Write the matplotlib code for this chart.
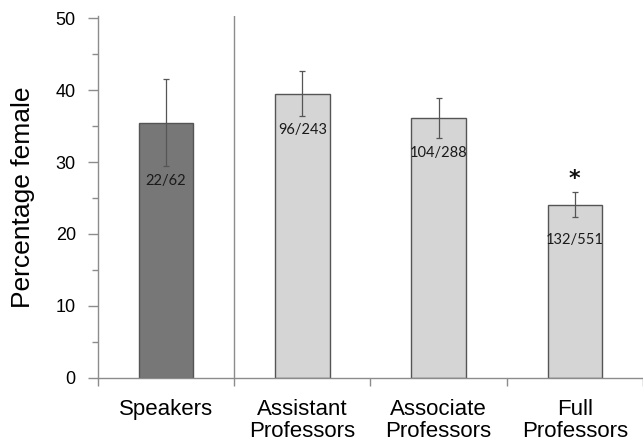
import matplotlib
matplotlib.use("Agg")
from matplotlib import pyplot as plt
from matplotlib.ticker import MultipleLocator
import numpy as np

# values
categories = ["Speakers", "Assistant\nProfessors", "Associate\nProfessors", "Full\nProfessors"]
pct_female = [35.5, 39.5, 36.1, 24.0]
err_low = [29.4, 36.4, 33.3, 22.3]
err_high = [41.6, 42.7, 38.9, 25.8]
counts = ["22/62", "96/243", "104/288", "132/551"]
significant = [False, False, False, True]

plt.rcParams['font.family'] = ['Liberation Sans', 'DejaVu Sans']

fig = plt.figure(figsize=(6.43, 4.42), dpi=100)
ax = fig.add_axes([0.1524, 0.1455, 0.8476, 0.818])

x = np.arange(len(categories))
vals = np.array(pct_female)
yerr = [vals - np.array(err_low), np.array(err_high) - vals]
colors = ["#777777"] + ["#d5d5d5"] * (len(categories) - 1)

ax.bar(x, vals, width=0.4, color=colors, edgecolor="#555555", linewidth=1.0, zorder=2)
ax.errorbar(x, vals, yerr=yerr, fmt="none", ecolor="#555555", elinewidth=0.9,
            capsize=2.3, capthick=0.9, zorder=3)

# count labels inside the bars
for xi, v, lo, txt in zip(x, vals, err_low, counts):
    ypos = min(lo - 2.0, v - 4.8)
    ax.text(xi, ypos, txt, ha="center", va="center", fontsize=10.5,
            family=["Lato", "DejaVu Sans"], color="#1a1a1a", zorder=4)

for xi, hi, sig in zip(x, err_high, significant):
    if sig:
        ax.text(xi, hi + 1.8, "*", ha="center", va="center", fontsize=16,
                fontweight="bold", family=["DejaVu Sans"], color="#111111")

# divider between speakers and faculty
ax.axvline(0.5, ymin=0, ymax=1, color="#8c8c8c", linewidth=1.0, zorder=1)

ax.set_xlim(-0.5, 3.46)
ax.set_ylim(0, 50.3)
ax.yaxis.set_major_locator(MultipleLocator(10))
ax.yaxis.set_minor_locator(MultipleLocator(5))
ax.set_xticks(np.arange(len(categories) + 1) - 0.5, minor=False)
ax.set_xticklabels([])
ax.set_xticks(x, minor=True)
ax.set_xticklabels(categories, minor=True, fontsize=16, linespacing=1.12)
ax.tick_params(axis="x", which="minor", length=0, pad=15)
ax.tick_params(axis="x", which="major", length=6, color="#8c8c8c", width=1.0)
ax.tick_params(axis="y", which="major", length=7, color="#8c8c8c", width=1.0,
               labelsize=13, pad=9)
ax.tick_params(axis="y", which="minor", length=4, color="#8c8c8c", width=1.0)

for side in ["top", "right"]:
    ax.spines[side].set_visible(False)
for side in ["left", "bottom"]:
    ax.spines[side].set_color("#8c8c8c")
    ax.spines[side].set_linewidth(1.0)

ax.set_ylabel("Percentage female", fontsize=19, labelpad=15)

fig.savefig("out.png", dpi=100)
